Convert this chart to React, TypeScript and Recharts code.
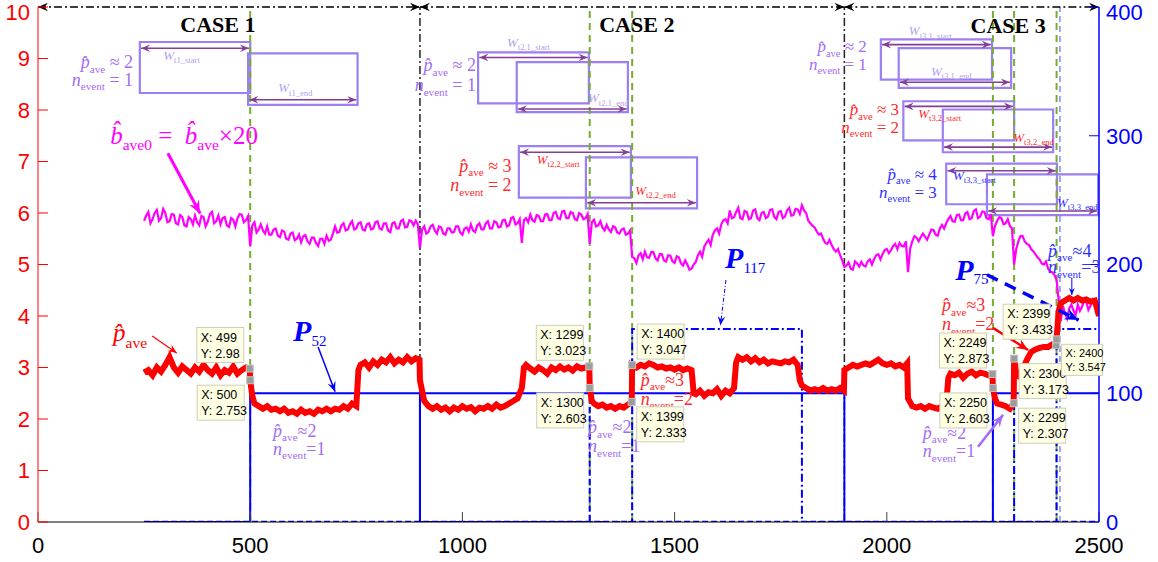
import React from "react";
import {
  LineChart,
  Line,
  XAxis,
  YAxis,
  ReferenceLine,
  ReferenceArea,
  ReferenceDot,
} from "recharts";

const X_TICKS = [0, 500, 1000, 1500, 2000, 2500];
const LEFT_TICKS = [0, 1, 2, 3, 4, 5, 6, 7, 8, 9, 10];
const RIGHT_TICKS = [0, 100, 200, 300, 400];

// b_ave0 (magenta): samples at 250, 260, ... 2500
const bAveStart = 250;
const bAveStep = 10;
const bAve0 = [
  5.85, 6.02, 5.88, 6.06, 5.9, 6.0, 5.84, 5.97, 5.78, 5.92,
  5.74, 5.88, 5.95, 5.76, 5.92, 5.83, 6.02, 5.84, 5.78, 5.92,
  5.73, 5.87, 5.9, 5.97, 5.86, 5.35, 5.82, 5.68, 5.66, 5.74,
  5.58, 5.7, 5.53, 5.64, 5.48, 5.62, 5.5, 5.43, 5.57, 5.4,
  5.52, 5.36, 5.5, 5.56, 5.48, 5.74, 5.63, 5.8, 5.68, 5.84,
  5.7, 5.82, 5.66, 5.8, 5.7, 5.84, 5.68, 5.8, 5.63, 5.82,
  5.7, 5.87, 5.73, 5.84, 5.85, 5.32, 5.74, 5.63, 5.77, 5.6,
  5.72, 5.58, 5.7, 5.63, 5.74, 5.58, 5.72, 5.78, 5.63, 5.8,
  5.68, 5.84, 5.7, 5.82, 5.73, 5.87, 5.76, 5.92, 5.8, 5.42,
  5.9, 5.97, 5.83, 5.94, 5.84, 5.98, 5.86, 6.02, 5.88, 6.04,
  5.9, 6.0, 5.86, 5.97, 5.9, 5.4, 5.87, 5.76, 5.72, 5.77,
  5.63, 5.72, 5.6, 5.7, 5.6, 5.15, 5.03, 5.22, 5.25, 5.13,
  5.24, 5.08, 5.2, 5.06, 5.17, 5.03, 5.14, 4.98, 5.0, 4.92,
  5.05, 5.25, 5.35, 5.48, 5.58, 5.7, 5.78, 5.88, 6.05, 5.92,
  6.1, 5.88, 6.02, 5.9, 6.07, 5.86, 6.02, 5.93, 6.07, 5.88,
  6.04, 5.93, 6.1, 5.96, 6.07, 6.15, 6.0, 5.8, 5.72, 5.58,
  5.5, 5.4, 5.38, 5.25, 5.18, 4.95, 5.04, 4.9, 5.02, 5.05,
  4.96, 5.1, 5.1, 5.2, 5.2, 5.3, 5.28, 5.4, 5.42, 5.35,
  4.85, 5.45, 5.52, 5.53, 5.54, 5.58, 5.67, 5.56, 5.77, 5.8,
  5.94, 5.83, 5.97, 5.86, 6.02, 5.9, 6.07, 5.93, 6.02, 5.88,
  5.55, 5.85, 5.9, 5.8, 5.75, 5.0, 5.45, 5.55, 5.4, 5.3,
  5.2, 5.1, 5.0, 4.92, 4.85, 4.7, 3.9, 4.05, 4.15, 4.1,
  4.22, 4.18, 4.28, 4.2, 4.25, 4.1,
];
// b_ave0 (magenta): in-between samples at 255, 265, ... 2495
const bAveMidStart = 255;
const bAveMid = [
  5.95, 5.8, 6.0, 5.85, 6.08, 5.82, 5.98, 5.8, 5.96, 5.76,
  5.92, 5.78, 5.82, 5.94, 5.74, 5.98, 5.8, 5.95, 5.9, 5.76,
  5.9, 5.74, 5.98, 5.82, 5.94, 5.76, 5.62, 5.78, 5.6, 5.58,
  5.68, 5.56, 5.66, 5.5, 5.6, 5.47, 5.58, 5.55, 5.45, 5.52,
  5.42, 5.5, 5.4, 5.46, 5.6, 5.62, 5.76, 5.66, 5.78, 5.68,
  5.8, 5.68, 5.78, 5.68, 5.82, 5.7, 5.8, 5.66, 5.8, 5.7,
  5.84, 5.72, 5.86, 5.76, 5.78, 5.68, 5.6, 5.74, 5.66, 5.74,
  5.6, 5.7, 5.62, 5.74, 5.62, 5.7, 5.64, 5.66, 5.76, 5.68,
  5.8, 5.7, 5.84, 5.72, 5.86, 5.74, 5.9, 5.78, 5.88, 5.86,
  5.82, 5.86, 5.96, 5.84, 5.97, 5.86, 6.0, 5.9, 6.03, 5.9,
  6.02, 5.88, 6.0, 5.88, 5.98, 5.82, 5.74, 5.84, 5.66, 5.68,
  5.74, 5.62, 5.68, 5.58, 5.66, 5.12, 5.18, 5.1, 5.14, 5.24,
  5.12, 5.2, 5.08, 5.18, 5.06, 5.16, 5.02, 5.08, 4.9, 5.0,
  5.18, 5.15, 5.42, 5.38, 5.66, 5.6, 5.86, 5.8, 5.9, 6.02,
  5.9, 6.04, 5.88, 6.05, 5.9, 6.0, 5.9, 6.06, 5.92, 6.02,
  5.9, 6.05, 5.95, 6.08, 5.98, 6.05, 5.85, 5.75, 5.64, 5.6,
  5.42, 5.48, 5.3, 5.3, 5.08, 4.98, 4.92, 5.06, 4.96, 4.98,
  5.06, 5.0, 5.18, 5.1, 5.28, 5.22, 5.36, 5.3, 5.36, 5.45,
  5.3, 5.55, 5.45, 5.6, 5.48, 5.68, 5.58, 5.7, 5.7, 5.88,
  5.84, 5.96, 5.86, 5.99, 5.88, 6.04, 5.9, 6.03, 5.9, 5.98,
  5.75, 5.92, 5.78, 5.88, 5.7, 5.3, 5.55, 5.45, 5.38, 5.26,
  5.14, 5.02, 5.06, 4.86, 4.8, 4.3, 4.2, 3.95, 4.22, 4.02,
  4.1, 4.3, 4.12, 4.32, 4.15,
];

// p_ave (red), [sample, value]
const pAve: [number, number][] = [
  [250, 2.9], [260, 2.95], [270, 2.85], [280, 3.0], [290, 2.92], [300, 3.05], [310, 3.2], [320, 3.0],
  [330, 2.9], [340, 3.02], [350, 2.95], [360, 2.88], [370, 3.0], [380, 2.92], [390, 3.05], [400, 2.95],
  [410, 2.88], [420, 3.0], [430, 2.85], [440, 2.95], [450, 2.9], [460, 3.02], [470, 2.88], [480, 2.95],
  [490, 3.0], [499, 2.98], [500, 2.753], [505, 2.45], [510, 2.3], [520, 2.25], [530, 2.2], [540, 2.25],
  [550, 2.18], [560, 2.2], [570, 2.15], [580, 2.2], [590, 2.12], [600, 2.15], [610, 2.1], [620, 2.18],
  [630, 2.12], [640, 2.15], [650, 2.1], [660, 2.18], [670, 2.15], [680, 2.2], [690, 2.15], [700, 2.2],
  [710, 2.18], [720, 2.25], [730, 2.2], [740, 2.3], [750, 2.25], [755, 2.95], [760, 3.05], [770, 3.1],
  [780, 3.0], [790, 3.12], [800, 3.05], [810, 3.15], [820, 3.1], [830, 3.2], [840, 3.08], [850, 3.15],
  [860, 3.1], [870, 3.2], [880, 3.12], [890, 3.18], [899, 3.15], [900, 2.75], [910, 2.35], [920, 2.25],
  [930, 2.2], [940, 2.25], [950, 2.18], [960, 2.22], [970, 2.15], [980, 2.22], [990, 2.18], [1000, 2.25],
  [1010, 2.2], [1020, 2.23], [1030, 2.15], [1040, 2.22], [1050, 2.2], [1060, 2.25], [1070, 2.2], [1080, 2.28],
  [1090, 2.22], [1100, 2.25], [1110, 2.3], [1120, 2.35], [1130, 2.4], [1140, 2.6], [1145, 3.0], [1150, 3.05],
  [1160, 2.98], [1170, 2.92], [1180, 3.0], [1190, 2.95], [1200, 2.88], [1210, 3.0], [1220, 2.95], [1230, 3.02],
  [1240, 2.96], [1250, 3.0], [1260, 2.94], [1270, 3.02], [1280, 2.98], [1290, 3.0], [1299, 3.023], [1300, 2.603],
  [1305, 2.35], [1310, 2.3], [1320, 2.25], [1330, 2.28], [1340, 2.22], [1350, 2.25], [1360, 2.2], [1370, 2.25],
  [1380, 2.22], [1390, 2.28], [1399, 2.333], [1400, 3.047], [1410, 3.0], [1420, 3.05], [1430, 3.02], [1440, 3.08],
  [1450, 3.05], [1460, 3.0], [1470, 3.02], [1480, 2.98], [1490, 3.0], [1500, 2.96], [1510, 3.0], [1520, 2.95],
  [1530, 2.98], [1540, 2.95], [1545, 2.5], [1550, 2.48], [1560, 2.55], [1570, 2.45], [1580, 2.52], [1590, 2.5],
  [1600, 2.58], [1610, 2.45], [1620, 2.55], [1630, 2.5], [1640, 2.6], [1645, 3.1], [1650, 3.2], [1660, 3.15],
  [1670, 3.2], [1680, 3.12], [1690, 3.18], [1700, 3.1], [1710, 3.15], [1720, 3.08], [1730, 3.12], [1740, 3.1],
  [1750, 3.08], [1760, 3.12], [1770, 3.1], [1780, 3.15], [1790, 3.05], [1795, 2.75], [1800, 2.65], [1810, 2.6],
  [1820, 2.55], [1830, 2.58], [1840, 2.55], [1850, 2.6], [1860, 2.55], [1870, 2.58], [1880, 2.55], [1890, 2.6],
  [1899, 2.55], [1900, 2.95], [1910, 3.0], [1920, 3.05], [1930, 3.02], [1940, 3.05], [1950, 3.08], [1960, 3.05],
  [1970, 3.1], [1980, 3.15], [1990, 3.08], [2000, 3.05], [2010, 3.08], [2020, 3.02], [2030, 3.05], [2040, 3.0],
  [2048, 3.08], [2050, 2.4], [2060, 2.25], [2070, 2.22], [2080, 2.25], [2090, 2.2], [2100, 2.25], [2110, 2.22],
  [2120, 2.2], [2130, 2.25], [2140, 2.28], [2145, 2.8], [2150, 2.88], [2160, 2.85], [2170, 2.9], [2180, 2.8],
  [2190, 2.88], [2200, 2.92], [2210, 2.85], [2220, 2.9], [2230, 2.88], [2240, 2.85], [2249, 2.873], [2250, 2.603],
  [2255, 2.4], [2260, 2.3], [2270, 2.28], [2280, 2.25], [2290, 2.2], [2299, 2.307], [2300, 3.173], [2305, 2.9],
  [2310, 2.85], [2320, 2.95], [2330, 3.15], [2340, 3.3], [2350, 3.35], [2360, 3.38], [2370, 3.4], [2380, 3.4],
  [2390, 3.45], [2399, 3.433], [2400, 3.547], [2405, 4.1], [2410, 4.25], [2420, 4.3], [2430, 4.35], [2440, 4.3],
  [2450, 4.35], [2460, 4.3], [2470, 4.32], [2480, 4.28], [2490, 4.3], [2500, 4.0],
];

// P (blue, right axis)
const pBase: [number, number][] = [[250, 0], [2500, 0]];
const p52Case1: [number, number][] = [[250, 0], [500, 0], [500, 100], [900, 100], [900, 0]];
const p52Case2: [number, number][] = [[900, 0], [900, 100], [1900, 100], [1900, 0]];
const p52Case2b: [number, number][] = [[900, 0], [1300, 0], [1300, 100]];
const p52Case3: [number, number][] = [[1900, 0], [2250, 0], [2250, 100], [2500, 100]];
const p117: [number, number][] = [[900, 0], [1400, 0], [1400, 150], [1800, 150], [1800, 0], [1900, 0]];
const p75: [number, number][] = [[1900, 0], [2400, 0], [2400, 150], [2500, 150]];
const p75b: [number, number][] = [[2300, 0], [2300, 100]];

const changePoints = [500, 1300, 1400, 2250, 2300, 2400];
const caseBounds = [900, 1900];

// data tips: x, y, placement
const tips: [number, number, string][] = [
  [499, 2.98, "nw"], [500, 2.753, "sw"],
  [1299, 3.023, "nw"], [1300, 2.603, "sw"],
  [1400, 3.047, "ne"], [1399, 2.333, "se"],
  [2249, 2.873, "nw"], [2250, 2.603, "sw"],
  [2300, 3.173, "se"], [2299, 2.307, "se"],
  [2399, 3.433, "nw"], [2400, 3.547, "se"],
];

const LIGHT = "#b3a0f0";
const RED = "#ff2b2b";
const BLUE = "#2f2fff";
const PURPLE = "#a46cf2";
const SERIF = "'Liberation Serif', 'Times New Roman', serif";
const SANS = "'Liberation Sans', Arial, sans-serif";

// window boxes: start, end, low, high, arrow level, label
const windows = [
  { name: "t1_start", x1: 240, x2: 500, y1: 8.33, y2: 9.32, ay: 9.2, lx: 295, ly: 8.97, c: LIGHT },
  { name: "t1_end", x1: 495, x2: 753, y1: 8.1, y2: 9.1, ay: 8.2, lx: 566, ly: 8.34, c: LIGHT },
  { name: "t2,1_start", x1: 1037, x2: 1298, y1: 8.13, y2: 9.12, ay: 9.02, lx: 1105, ly: 9.22, c: LIGHT },
  { name: "t2,1_end", x1: 1128, x2: 1390, y1: 7.96, y2: 8.93, ay: 8.02, lx: 1296, ly: 8.15, c: LIGHT },
  { name: "t2,2_start", x1: 1133, x2: 1397, y1: 6.3, y2: 7.3, ay: 7.18, lx: 1175, ly: 6.96, c: RED },
  { name: "t2,2_end", x1: 1291, x2: 1553, y1: 6.09, y2: 7.08, ay: 6.2, lx: 1407, ly: 6.35, c: RED },
  { name: "t3,1_start", x1: 1986, x2: 2248, y1: 8.59, y2: 9.37, ay: 9.27, lx: 2052, ly: 9.45, c: LIGHT },
  { name: "t3,1_end", x1: 2028, x2: 2293, y1: 8.43, y2: 9.2, ay: 8.54, lx: 2104, ly: 8.66, c: LIGHT },
  { name: "t3,2_start", x1: 2039, x2: 2300, y1: 7.41, y2: 8.17, ay: 8.07, lx: 2074, ly: 7.84, c: RED },
  { name: "t3,2_end", x1: 2132, x2: 2392, y1: 7.18, y2: 8.01, ay: 7.28, lx: 2298, ly: 7.38, c: RED },
  { name: "t3,3_start", x1: 2140, x2: 2401, y1: 6.17, y2: 6.96, ay: 6.82, lx: 2156, ly: 6.64, c: BLUE },
  { name: "t3,3_end", x1: 2236, x2: 2498, y1: 5.96, y2: 6.75, ay: 6.04, lx: 2401, ly: 6.12, c: BLUE },
];

const rows = (pts: [number, number][]) => pts.map(([x, y]) => ({ x, y }));
const bAveRows = [
  ...bAve0.map((y, i) => ({ x: bAveStart + i * bAveStep, y })),
  ...bAveMid.map((y, i) => ({ x: bAveMidStart + i * bAveStep, y })),
].sort((a, b) => a.x - b.x);

type Seg = { t: string; i?: boolean; s?: boolean; b?: boolean };

function mathText(
  cx: number,
  cy: number,
  segs: Seg[],
  size: number,
  color: string,
  anchor: "start" | "middle" | "end" = "start",
  sub = 0.62,
  drop = 0.26
) {
  let down = false;
  return (
    <text x={cx} y={cy} fill={color} textAnchor={anchor} fontFamily={SERIF} fontSize={size} style={{ whiteSpace: "pre" }}>
      {segs.map((g, k) => {
        let dy = 0;
        if (g.s && !down) {
          dy = size * drop;
          down = true;
        } else if (!g.s && down) {
          dy = -size * drop;
          down = false;
        }
        return (
          <tspan
            key={k}
            dy={dy}
            fontSize={g.s ? size * sub : size}
            fontStyle={g.i ? "italic" : "normal"}
            fontWeight={g.b ? "bold" : "normal"}
          >
            {g.t}
          </tspan>
        );
      })}
    </text>
  );
}

const pHat = (rest: string): Seg[] => [{ t: "p\u0302", i: true }, { t: "ave", s: true }, { t: rest }];
const nEv = (rest: string): Seg[] => [{ t: "n", i: true }, { t: "event", s: true }, { t: rest }];

function note(key: string, x: number, y: number, draw: (cx: number, cy: number) => React.ReactNode) {
  return (
    <ReferenceDot
      key={key}
      yAxisId="L"
      x={x}
      y={y}
      r={0}
      ifOverflow="visible"
      isFront
      shape={(p: any) => <g>{draw(p.cx, p.cy)}</g>}
    />
  );
}

function head(x: number, y: number, a: number, size: number, color: string) {
  const w = size * 0.42;
  const bx = x - size * Math.cos(a);
  const by = y - size * Math.sin(a);
  const mx = x - size * 0.65 * Math.cos(a);
  const my = y - size * 0.65 * Math.sin(a);
  const nx = -Math.sin(a) * w;
  const ny = Math.cos(a) * w;
  return <polygon points={`${x},${y} ${bx + nx},${by + ny} ${mx},${my} ${bx - nx},${by - ny}`} fill={color} />;
}

function arrowShape(color: string, width: number, dash?: string, both = false, size = 10) {
  return (p: any) => {
    const { x1, y1, x2, y2 } = p;
    const a = Math.atan2(y2 - y1, x2 - x1);
    return (
      <g>
        <line x1={x1} y1={y1} x2={x2} y2={y2} stroke={color} strokeWidth={width} strokeDasharray={dash} />
        {head(x2, y2, a, size, color)}
        {both && head(x1, y1, a + Math.PI, size, color)}
      </g>
    );
  };
}

function arrow(key: string, x1: number, y1: number, x2: number, y2: number, shape: (p: any) => React.ReactNode) {
  return (
    <ReferenceLine
      key={key}
      yAxisId="L"
      segment={[{ x: x1, y: y1 }, { x: x2, y: y2 }]}
      ifOverflow="visible"
      isFront
      shape={shape}
    />
  );
}

function tipShape(x: number, y: number, place: string) {
  return (cx: number, cy: number) => {
    const small = x === 2400;
    const w = small ? 41 : 47;
    const h = small ? 31 : 35;
    const bx = place[1] === "w" ? cx - w - 6 : cx + 5;
    const by = place[0] === "n" ? cy - h - 6 : cy + 5;
    const fs = small ? 11 : 12.5;
    return (
      <g>
        <rect x={bx} y={by} width={w} height={h} fill="#ffffe4" stroke="#cdcdbd" strokeWidth={1} />
        <text x={bx + 4} y={by + (small ? 13 : 14)} fontSize={fs} fontFamily={SANS} fill="#000">{`X: ${x}`}</text>
        <text x={bx + 4} y={by + (small ? 27 : 30)} fontSize={fs} fontFamily={SANS} fill="#000">{`Y: ${y}`}</text>
        <rect x={cx - 3.5} y={cy - 3.5} width={7} height={7} fill="#9c9c9c" stroke="#c4c4c4" />
      </g>
    );
  };
}

// tick label that stays inside the page at the top end of the axis
const yTick = (color: string) => (p: any) => (
  <text
    x={p.x}
    y={Math.max(p.y, 12)}
    dy="0.355em"
    textAnchor={p.textAnchor}
    fill={color}
    fontSize={22}
    fontFamily={SANS}
  >
    {p.payload.value}
  </text>
);

export default function App() {
  const blue = (key: string, pts: [number, number][], width: number, dash?: string) => (
    <Line
      key={key}
      yAxisId="R"
      data={rows(pts)}
      dataKey="y"
      stroke="#0000ff"
      strokeWidth={width}
      strokeDasharray={dash}
      dot={false}
      isAnimationActive={false}
    />
  );

  return (
    <div style={{ position: "absolute", left: 0, top: 0, width: 1158, height: 562, background: "#fff", fontFamily: SANS }}>
      <LineChart width={1158} height={562} margin={{ top: 7, right: 0, bottom: 0, left: 0 }}>
        <XAxis
          type="number"
          dataKey="x"
          domain={[0, 2500]}
          ticks={X_TICKS}
          interval={0}
          height={40}
          tickSize={-10}
          tickMargin={25}
          allowDataOverflow
          axisLine={{ stroke: "#000", strokeWidth: 1 }}
          tickLine={{ stroke: "#444" }}
          tick={{ fill: "#000", fontSize: 22, fontFamily: SANS }}
        />
        <YAxis
          yAxisId="L"
          orientation="left"
          domain={[0, 10]}
          ticks={LEFT_TICKS}
          interval={0}
          width={38}
          tickSize={-10}
          tickMargin={18}
          allowDataOverflow
          axisLine={{ stroke: "#ff3030", strokeWidth: 1.2 }}
          tickLine={{ stroke: "#ff0000" }}
          tick={yTick("#ff0000")}
        />
        <YAxis
          yAxisId="R"
          orientation="right"
          domain={[0, 400]}
          ticks={RIGHT_TICKS}
          interval={0}
          width={59}
          tickSize={-10}
          tickMargin={17}
          allowDataOverflow
          axisLine={{ stroke: "#0000ff", strokeWidth: 1.5 }}
          tickLine={{ stroke: "#0000ff" }}
          tick={yTick("#0000ff")}
        />

        {caseBounds.map((x) => (
          <ReferenceLine key={`cb${x}`} yAxisId="L" x={x} stroke="#222" strokeWidth={1.5} strokeDasharray="8 3 2 3" />
        ))}
        <ReferenceLine yAxisId="L" x={2408} stroke="#6a6aff" strokeWidth={1.2} strokeDasharray="6 4" />
        {changePoints.map((x) => (
          <ReferenceLine key={`cp${x}`} yAxisId="L" x={x} stroke="#77ac30" strokeWidth={2} strokeDasharray="7 5" />
        ))}

        {windows.map((w) => (
          <ReferenceArea
            key={`wa${w.name}`}
            yAxisId="L"
            x1={w.x1}
            x2={w.x2}
            y1={w.y1}
            y2={w.y2}
            fill="none"
            fillOpacity={0}
            stroke="#9b7ff3"
            strokeWidth={2.2}
            ifOverflow="visible"
          />
        ))}

        {blue("pb", pBase, 2.5, "6 3")}
        {blue("p1", p52Case1, 2)}
        {blue("p2", p52Case2, 2)}
        {blue("p2b", p52Case2b, 2, "6 3")}
        {blue("p3", p52Case3, 2)}
        {blue("p117", p117, 2, "8 3 2 3")}
        {blue("p75", p75, 2, "8 3 2 3")}
        {blue("p75b", p75b, 2, "8 3 2 3")}

        <Line
          yAxisId="L"
          data={bAveRows}
          dataKey="y"
          stroke="#ff00ff"
          strokeWidth={2.2}
          dot={false}
          isAnimationActive={false}
        />
        <Line
          yAxisId="L"
          data={rows(pAve)}
          dataKey="y"
          stroke="#ff0000"
          strokeWidth={6}
          dot={false}
          isAnimationActive={false}
        />

        {/* case arrows along the top */}
        {arrow("ca1", 0, 10, 900, 10, arrowShape("#000", 1.5, "8 3 2 3", true, 10))}
        {arrow("ca2", 900, 10, 1900, 10, arrowShape("#000", 1.5, "8 3 2 3", true, 10))}
        {arrow("ca3", 1900, 10, 2500, 10, arrowShape("#000", 1.5, "8 3 2 3", true, 10))}
        {note("c1", 424, 9.51, (cx, cy) => mathText(cx, cy, [{ t: "CASE 1", b: true }], 22, "#000", "middle"))}
        {note("c2", 1411, 9.51, (cx, cy) => mathText(cx, cy, [{ t: "CASE 2", b: true }], 22, "#000", "middle"))}
        {note("c3", 2286, 9.49, (cx, cy) => mathText(cx, cy, [{ t: "CASE 3", b: true }], 22, "#000", "middle"))}

        {windows.map((w) =>
          arrow(`wr${w.name}`, w.x1 + 3, w.ay, w.x2 - 3, w.ay, arrowShape("#843f94", 1.6, undefined, true, 9))
        )}
        {windows.map((w) =>
          note(`wl${w.name}`, w.lx, w.ly, (cx, cy) =>
            mathText(cx, cy, [{ t: "W", i: true }, { t: w.name, s: true }], 13, w.c, "start", 0.66, 0.25)
          )
        )}

        {/* window legends */}
        {note("e1a", 224, 8.81, (cx, cy) => mathText(cx, cy, pHat(" \u2248 2"), 18, PURPLE, "end"))}
        {note("e1b", 224, 8.47, (cx, cy) => mathText(cx, cy, nEv(" = 1"), 18, PURPLE, "end"))}
        {note("e2a", 1032, 8.76, (cx, cy) => mathText(cx, cy, pHat(" \u2248 2"), 18, PURPLE, "end"))}
        {note("e2b", 1032, 8.36, (cx, cy) => mathText(cx, cy, nEv(" = 1"), 18, PURPLE, "end"))}
        {note("e3a", 1116, 6.8, (cx, cy) => mathText(cx, cy, pHat(" \u2248 3"), 18, RED, "end"))}
        {note("e3b", 1116, 6.42, (cx, cy) => mathText(cx, cy, nEv(" = 2"), 18, RED, "end"))}
        {note("e4a", 1953, 9.12, (cx, cy) => mathText(cx, cy, pHat(" \u2248 2"), 17, PURPLE, "end"))}
        {note("e4b", 1953, 8.78, (cx, cy) => mathText(cx, cy, nEv(" = 1"), 17, PURPLE, "end"))}
        {note("e5a", 2029, 7.9, (cx, cy) => mathText(cx, cy, pHat(" \u2248 3"), 17, RED, "end"))}
        {note("e5b", 2029, 7.56, (cx, cy) => mathText(cx, cy, nEv(" = 2"), 17, RED, "end"))}
        {note("e6a", 2118, 6.64, (cx, cy) => mathText(cx, cy, pHat(" \u2248 4"), 17, BLUE, "end"))}
        {note("e6b", 2118, 6.3, (cx, cy) => mathText(cx, cy, nEv(" = 3"), 17, BLUE, "end"))}

        {/* curve labels */}
        {note("bl", 170, 7.34, (cx, cy) =>
          mathText(
            cx,
            cy,
            [
              { t: "b\u0302", i: true },
              { t: "ave0", s: true },
              { t: " =  " },
              { t: "b\u0302", i: true },
              { t: "ave", s: true },
              { t: "\u00d720" },
            ],
            25,
            "#ff00ff"
          )
        )}
        {arrow("ba", 306, 7.16, 382, 5.99, arrowShape("#ff00ff", 3, undefined, false, 13))}
        {note("pl", 177, 3.51, (cx, cy) => mathText(cx, cy, [{ t: "p\u0302", i: true }, { t: "ave", s: true }], 25, "#ff0000"))}
        {arrow("pa", 269, 3.61, 327, 3.28, arrowShape("#ff0000", 1.2, undefined, false, 9))}
        {note("p52", 601, 3.51, (cx, cy) =>
          mathText(cx, cy, [{ t: "P", i: true, b: true }, { t: "52", s: true }], 30, "#0000ff", "start", 0.5, 0.15)
        )}
        {arrow("p52a", 660, 3.4, 700, 2.53, arrowShape("#0000ff", 1.5, undefined, false, 10))}
        {note("p117", 1619, 4.93, (cx, cy) =>
          mathText(cx, cy, [{ t: "P", i: true, b: true }, { t: "117", s: true }], 30, "#0000ff", "start", 0.5, 0.15)
        )}
        {arrow("p117a", 1621, 4.7, 1608, 3.82, arrowShape("#0000ff", 1, "4 2 1 2", false, 9))}
        {note("p75", 2161, 4.7, (cx, cy) =>
          mathText(cx, cy, [{ t: "P", i: true, b: true }, { t: "75", s: true }], 30, "#0000ff", "start", 0.5, 0.15)
        )}
        {arrow("p75a", 2236, 4.8, 2452, 3.92, arrowShape("#0000ff", 3.5, "12 8", false, 14))}

        {/* in-plot event labels */}
        {note("f1a", 554, 1.66, (cx, cy) => mathText(cx, cy, pHat("\u22482"), 18, PURPLE))}
        {note("f1b", 554, 1.31, (cx, cy) => mathText(cx, cy, nEv("=1"), 18, PURPLE))}
        {note("f2a", 1296, 1.73, (cx, cy) => mathText(cx, cy, pHat("\u22482"), 18, PURPLE))}
        {note("f2b", 1296, 1.35, (cx, cy) => mathText(cx, cy, nEv("=1"), 18, PURPLE))}
        {note("f3a", 1420, 2.65, (cx, cy) => mathText(cx, cy, pHat("\u22483"), 18, RED))}
        {note("f3b", 1420, 2.28, (cx, cy) => mathText(cx, cy, nEv("=2"), 18, RED))}
        {note("f4a", 2085, 1.62, (cx, cy) => mathText(cx, cy, pHat("\u22482"), 18, PURPLE))}
        {note("f4b", 2085, 1.26, (cx, cy) => mathText(cx, cy, nEv("=1"), 18, PURPLE))}
        {arrow("f4c", 2215, 1.46, 2274, 2.08, arrowShape(PURPLE, 2.5, undefined, false, 12))}
        {note("f5a", 2130, 4.1, (cx, cy) => mathText(cx, cy, pHat("\u22483"), 18, RED))}
        {note("f5b", 2130, 3.72, (cx, cy) => mathText(cx, cy, nEv("=2"), 18, RED))}
        {arrow("f5c", 2250, 3.77, 2333, 3.34, arrowShape("#ff0000", 2.5, undefined, false, 12))}
        {note("f6a", 2380, 5.15, (cx, cy) => mathText(cx, cy, pHat("\u22484"), 18, BLUE))}
        {note("f6b", 2380, 4.83, (cx, cy) => mathText(cx, cy, nEv("=3"), 18, BLUE))}
        {arrow("f6c", 2436, 4.74, 2436, 4.41, arrowShape("#0000ff", 1, undefined, false, 7))}

        {tips.map(([x, y, place]) => note(`tip${x}`, x, y, tipShape(x, y, place)))}
      </LineChart>
    </div>
  );
}
